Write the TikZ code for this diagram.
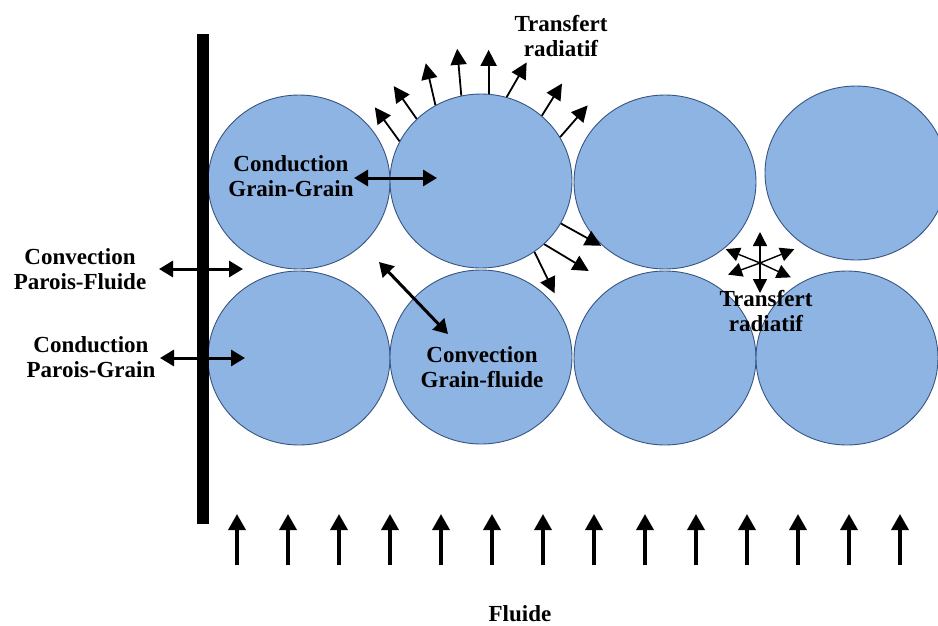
\documentclass[tikz,border=0pt]{standalone}
\usepackage{fontspec}
\setmainfont{Liberation Serif}
\usetikzlibrary{shapes.geometric, arrows.meta}
\definecolor{grainblue}{RGB}{142,180,227}
\definecolor{grainedge}{RGB}{55,85,130}

\begin{document}
\begin{tikzpicture}[
      x=1pt, y=-1pt,
      grain/.style={ellipse, draw=grainedge, line width=0.9pt, fill=grainblue, minimum width=182pt, minimum height=174pt, inner sep=0pt},
      lbl/.style={align=center, inner sep=0pt, font=\bfseries\fontsize{23}{25}\selectfont},
      wall/.style={rectangle, fill=black, minimum width=12pt, minimum height=490pt, inner sep=0pt},
      flow/.style={-{Triangle[length=16pt,width=17pt]}, line width=3.5pt},
      both/.style={{Triangle[length=14pt,width=16pt]}-{Triangle[length=14pt,width=16pt]}, line width=3pt},
      ray/.style={-{Triangle[length=16pt,width=16pt]}, line width=1.8pt},
      star/.style={-{Triangle[length=14pt,width=14pt]}, line width=1.4pt}
    ]
    \useasboundingbox (0,0) rectangle (938,625);
    \clip (0,0) rectangle (938,625);

    % grains
    \node[grain] (g1) at (299,182) {};
    \node[grain] (g2) at (481,181) {};
    \node[grain] (g3) at (665,182) {};
    \node[grain] (g4) at (856,173) {};
    \node[grain] (g5) at (299,358) {};
    \node[grain] (g6) at (481,357) {};
    \node[grain] (g7) at (665,358) {};
    \node[grain] (g8) at (847,358) {};

    % wall
    \node[wall] (wall) at (203,279) {};

    % labels
    \node[lbl, anchor=south] (cgg) at (291,197) {Conduction\\Grain-Grain};
    \node[lbl, anchor=south] (cpf) at (80,290) {Convection\\Parois-Fluide};
    \node[lbl, anchor=south] (cpg) at (91,378) {Conduction\\Parois-Grain};
    \node[lbl, anchor=south] (cgf) at (482,388) {Convection\\Grain-fluide};
    \node[lbl, anchor=south] (tr1) at (561,57) {Transfert\\radiatif};
    \node[lbl, anchor=south] (tr2) at (766,332) {Transfert\\radiatif};
    \node[lbl, anchor=base] (fl) at (520,621) {Fluide};

    % exchanges
    \coordinate (pf-a) at (159,269); \coordinate (pf-b) at (243,269);
    \coordinate (pg-a) at (160,358); \coordinate (pg-b) at (245,358);
    \coordinate (gg-a) at (354,178); \coordinate (gg-b) at (437,178);
    \coordinate (gf-a) at (379,262); \coordinate (gf-b) at (448,334);
    \draw[both] (pf-a) -- (pf-b);
    \draw[both] (pg-a) -- (pg-b);
    \draw[both] (gg-a) -- (gg-b);
    \draw[both] (gf-a) -- (gf-b);

    % radiation
    \foreach \a/\d/\l in {154/126/42, 136/125/40, 121/103/43, 103/95/47, 85/90/44, 73/60/40, 47/58/38, 29/49/42, 332/331/46, 315/329/52, 307/296/46}
      \draw[ray] (g2.\a) -- ++(\d:\l pt);
    \coordinate (gap) at (760,263);
    \foreach \d/\l in {90/31, 270/30, 158/37, 22/37, 200/34, 335/34}
      \draw[star] (gap) -- ++(\d:\l pt);

    % fluid flow
    \foreach \i in {0,...,13} {
      \coordinate (f\i) at ({237+51*\i},565);
      \draw[flow] (f\i) -- ++(0,-51);
    }
  \end{tikzpicture}
\end{document}
